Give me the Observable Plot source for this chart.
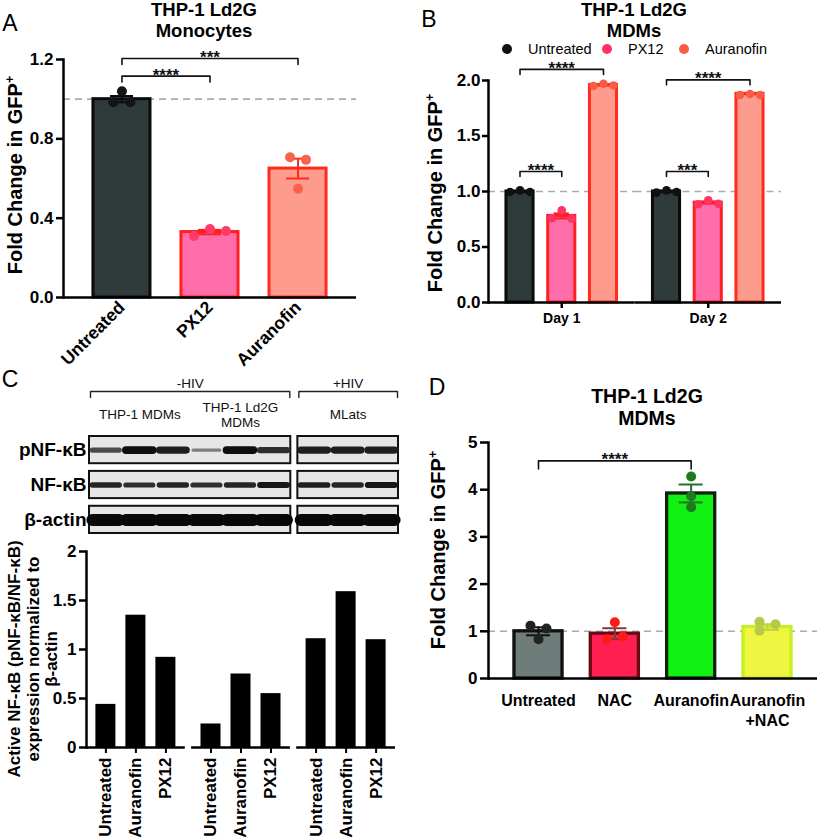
<!DOCTYPE html>
<html><head><meta charset="utf-8">
<script src="https://cdn.jsdelivr.net/npm/d3@7"></script>
<script src="https://cdn.jsdelivr.net/npm/@observablehq/plot@0.6"></script>
<style>
body{margin:0;background:#fff;}
#fig{position:relative;width:828px;height:840px;overflow:hidden;background:#fff;font-family:"Liberation Sans",Arial,Helvetica,sans-serif;color:#000;}
.lbl{position:absolute;white-space:nowrap;text-align:center;}
.dot{position:absolute;border-radius:50%;}
</style></head>
<body><div id="fig"></div>
<script>
// ================= DATA =================
// Panel A – THP-1 Ld2G Monocytes
const aCategories = ["Untreated", "PX12", "Auranofin"];
const aMeans = [1.00, 0.33, 0.65];
const aSems = [0.016, 0.011, 0.05];
const aReplicates = [[0.985, 1.04, 0.985], [0.31, 0.345, 0.335], [0.707, 0.548, 0.694]];
const aComparisons = [["Untreated", "PX12", 1.116, "****"], ["Untreated", "Auranofin", 1.205, "***"]];
const aTicks = [0, 0.4, 0.8, 1.2];

// Panel B – THP-1 Ld2G MDMs
const bDays = ["Day 1", "Day 2"];
const bCategories = ["Untreated", "PX12", "Auranofin"];
const bMeansDay1 = [1.00, 0.78, 1.96];
const bMeansDay2 = [1.00, 0.90, 1.88];
const bSemsDay1 = [0.006, 0.023, 0.007];
const bSemsDay2 = [0.006, 0.009, 0.004];
const bRepsDay1 = [[0.995, 1.01, 0.995], [0.76, 0.83, 0.755], [1.95, 1.97, 1.955]];
const bRepsDay2 = [[0.99, 1.01, 0.995], [0.885, 0.92, 0.89], [1.87, 1.878, 1.87]];
const bComparisons = [["Day 1", "Untreated", "PX12", 1.18, "****"], ["Day 1", "Untreated", "Auranofin", 2.10, "****"],
                      ["Day 2", "Untreated", "PX12", 1.18, "***"], ["Day 2", "Untreated", "Auranofin", 2.006, "****"]];
const bTicks = [0, 0.5, 1, 1.5, 2];

// Panel C – western blot + densitometry
const blotRows = ["pNF-κB", "NF-κB", "β-actin"];
const blotLaneHiv = ["-HIV", "-HIV", "-HIV", "-HIV", "-HIV", "-HIV", "+HIV", "+HIV", "+HIV"];
const blotLaneCell = ["THP-1 MDMs", "THP-1 MDMs", "THP-1 MDMs", "THP-1 Ld2G\nMDMs", "THP-1 Ld2G\nMDMs", "THP-1 Ld2G\nMDMs", "MLats", "MLats", "MLats"];
const blotPnfkb = [0.65, 0.97, 0.88, 0.38, 0.97, 0.8, 0.88, 0.88, 0.88];
const blotNfkb = [0.85, 0.8, 0.85, 0.8, 0.85, 0.92, 0.88, 0.85, 0.92];
const blotActin = [1, 1, 1, 1, 1, 1, 1, 1, 1];
const cGroups = ["THP-1 MDMs", "THP-1 Ld2G MDMs", "MLats"];
const cTreatments = ["Untreated", "Auranofin", "PX12"];
const cThp1 = [0.44, 1.35, 0.92];
const cLd2g = [0.24, 0.75, 0.55];
const cMlats = [1.11, 1.59, 1.10];
const cTicks = [0, 0.5, 1, 1.5, 2];

// Panel D – THP-1 Ld2G MDMs with NAC
const dCategories = ["Untreated", "NAC", "Auranofin", "Auranofin+NAC"];
const dMeans = [1.00, 0.95, 3.92, 1.09];
const dSems = [0.085, 0.115, 0.19, 0.06];
const dReplicates = [[1.12, 0.83, 1.06], [0.83, 1.19, 0.89], [4.28, 3.86, 3.63], [1.20, 1.01, 1.15]];
const dComparisons = [["Untreated", "Auranofin", 4.61, "****"]];
const dTicks = [0, 1, 2, 3, 4, 5];

// ================= HELPERS =================
const FONT = '"Liberation Sans", Arial, Helvetica, sans-serif';
const fig = document.getElementById("fig");
function place(el, left, top) { el.style.position = "absolute"; el.style.left = left + "px"; el.style.top = top + "px"; fig.appendChild(el); return el; }
function baseStyle(extra = {}) { return Object.assign({fontFamily: FONT, fontSize: "16px", fontWeight: "bold", background: "transparent", overflow: "visible", color: "#000"}, extra); }
function bandStep(inner, n, pi, po) { return inner / (n - pi + 2 * po); }
function dashed(v) { return Plot.ruleY([v], {stroke: "#ababab", strokeWidth: 1.6, strokeDasharray: "7,5"}); }
function errorMarks(data, {color, inset, fx}) {
  return [
    Plot.ruleX(data, {x: "cat", fx, y1: d => d.mean - d.sem, y2: d => d.mean + d.sem, stroke: color, strokeWidth: 2}),
    Plot.tickY(data, {x: "cat", fx, y: d => d.mean + d.sem, stroke: color, strokeWidth: 2, insetLeft: inset, insetRight: inset}),
    Plot.tickY(data, {x: "cat", fx, y: d => d.mean - d.sem, stroke: color, strokeWidth: 2, insetLeft: inset, insetRight: inset})
  ];
}
function dotMarks(points, {color, r, jitter, fx}) {
  return Array.from(d3.group(points, jitter), ([off, pts]) => Plot.dot(pts, {x: "cat", y: "v", fx, fill: color, r, dx: off}));
}
function bracketMarks(list, {tick, step, domain, fx}) {
  const pts = list.flatMap((b, k) => [
    {id: k, x: b.from, y: b.y - tick, fx: b.fx}, {id: k, x: b.from, y: b.y, fx: b.fx},
    {id: k, x: b.to, y: b.y, fx: b.fx}, {id: k, x: b.to, y: b.y - tick, fx: b.fx}]);
  const marks = [Plot.line(pts, {x: "x", y: "y", z: "id", fx, stroke: "#111", strokeWidth: 1.6})];
  list.forEach(b => {
    const span = domain.indexOf(b.to) - domain.indexOf(b.from);
    marks.push(Plot.text([b], {x: "from", y: "y", fx, text: "label", dx: span * step / 2, dy: -1,
      fontSize: 17, fontWeight: "bold", fill: "#111", lineAnchor: "middle"}));
  });
  return marks;
}
function addText(html, x, y, size, {weight = "bold", lh = size, rotate = false, anchor = "middle"} = {}) {
  const d = document.createElement("div");
  d.className = "lbl";
  d.innerHTML = html;
  d.style.fontSize = size + "px"; d.style.fontWeight = weight; d.style.lineHeight = lh + "px";
  d.style.left = x + "px"; d.style.top = y + "px";
  if (rotate) d.style.transform = "translate(-50%,-50%) rotate(-90deg)";
  else if (anchor === "start") { d.style.transform = "translate(0,-50%)"; d.style.textAlign = "left"; }
  else d.style.transform = "translate(-50%,-50%)";
  fig.appendChild(d);
  return d;
}
const sup = '<span style="font-size:0.62em;vertical-align:0.62em;line-height:0">+</span>';

// ================= PANEL A =================
const A = {w: 414, h: 380, mt: 59, mb: 83, ml: 63, mr: 58, pi: 0.352, po: 0.34};
const aStep = bandStep(A.w - A.ml - A.mr, aCategories.length, A.pi, A.po);
const aBars = aCategories.map((cat, i) => ({cat, mean: aMeans[i], sem: aSems[i]}));
const aPoints = aCategories.flatMap((cat, i) => aReplicates[i].map((v, rep) => ({cat, v, rep})));
const aFill = {Untreated: "#2f3b3b", PX12: "#ff6eaa", Auranofin: "#fd9b8d"};
const aStroke = {Untreated: "#0b0b0b", PX12: "#ff1f1f", Auranofin: "#ff2b1d"};
const aDot = {Untreated: "#141414", PX12: "#ff3b6b", Auranofin: "#f9624c"};
const aSpread = {Untreated: 8.5, PX12: 16, Auranofin: 8};
place(Plot.plot({
  width: A.w, height: A.h, marginTop: A.mt, marginBottom: A.mb, marginLeft: A.ml, marginRight: A.mr,
  style: baseStyle(),
  x: {domain: aCategories, paddingInner: A.pi, paddingOuter: A.po, round: false},
  y: {domain: [0, 1.2]},
  color: {type: "identity"},
  marks: [
    dashed(1),
    Plot.barY(aBars, {x: "cat", y: "mean", fill: d => aFill[d.cat], stroke: d => aStroke[d.cat], strokeWidth: 3}),
    ...errorMarks(aBars, {color: d => aStroke[d.cat], inset: 17}),
    ...dotMarks(aPoints, {color: d => aDot[d.cat], r: 5, jitter: d => (d.rep - 1) * aSpread[d.cat]}),
    ...bracketMarks(aComparisons.map(([from, to, y, label]) => ({from, to, y, label})), {tick: 0.03, step: aStep, domain: aCategories}),
    Plot.ruleY([0], {stroke: "#000", strokeWidth: 2.5}),
    Plot.frame({anchor: "left", stroke: "#000", strokeWidth: 2.5}),
    Plot.axisY({ticks: aTicks, tickFormat: ".1f", tickSize: 7, tickPadding: 3, strokeWidth: 2.5, fontSize: 17, fontWeight: "bold", label: null}),
    Plot.axisX({tickSize: 0, tickPadding: 7, tickRotate: -45, fontSize: 17.5, fontWeight: "bold", label: null})
  ]
}), 0, 0);

// ================= PANEL B =================
const B = {w: 414, h: 340, mt: 80, mb: 38, ml: 74, mr: 47, pi: 0.35, po: 0.43};
const bStep = bandStep((B.w - B.ml - B.mr) / bDays.length, bCategories.length, B.pi, B.po);
const bMeans = [bMeansDay1, bMeansDay2], bSems = [bSemsDay1, bSemsDay2], bReps = [bRepsDay1, bRepsDay2];
const bBars = bDays.flatMap((day, di) => bCategories.map((cat, i) => ({day, cat, mean: bMeans[di][i], sem: bSems[di][i]})));
const bPoints = bDays.flatMap((day, di) => bCategories.flatMap((cat, i) => bReps[di][i].map((v, rep) => ({day, cat, v, rep}))));
const bFill = aFill, bStroke = aStroke, bDot = {Untreated: "#111", PX12: "#ff3366", Auranofin: "#fa5b45"};
place(Plot.plot({
  width: B.w, height: B.h, marginTop: B.mt, marginBottom: B.mb, marginLeft: B.ml, marginRight: B.mr,
  style: baseStyle(),
  fx: {domain: bDays, padding: 0, round: false},
  x: {domain: bCategories, paddingInner: B.pi, paddingOuter: B.po, round: false, axis: null},
  y: {domain: [0, 2]},
  color: {type: "identity"},
  marks: [
    dashed(1),
    Plot.barY(bBars, {fx: "day", x: "cat", y: "mean", fill: d => bFill[d.cat], stroke: d => bStroke[d.cat], strokeWidth: 3}),
    ...errorMarks(bBars, {fx: "day", color: d => bStroke[d.cat], inset: 6}),
    ...dotMarks(bPoints, {fx: "day", color: d => bDot[d.cat], r: 4.3, jitter: d => (d.rep - 1) * 10}),
    ...bracketMarks(bComparisons.map(([fx, from, to, y, label]) => ({fx, from, to, y, label})), {fx: "fx", tick: 0.045, step: bStep, domain: bCategories}),
    Plot.ruleY([0], {stroke: "#000", strokeWidth: 2.5}),
    Plot.frame({anchor: "left", facetAnchor: "left", stroke: "#000", strokeWidth: 2.5}),
    Plot.axisY({ticks: bTicks, tickFormat: ".1f", tickSize: 6, tickPadding: 2, strokeWidth: 2.5, fontSize: 17, fontWeight: "bold", label: null}),
    Plot.axisFx({anchor: "bottom", tickSize: 6, tickPadding: 5, strokeWidth: 2.5, fontSize: 14, fontWeight: "bold", label: null})
  ]
}), 414, 0);

// ================= PANEL C : blot =================
const blotGap = 0.21;
const laneX = i => i + (i >= 6 ? blotGap : 0);
const blotIntensity = [blotPnfkb, blotNfkb, blotActin];
const blotBase = {"pNF-κB": 8, "NF-κB": 6.5, "β-actin": 12};
const hivGroups = Array.from(d3.group(blotLaneHiv.map((h, i) => ({h, i})), d => d.h), ([name, v]) =>
  ({name, x1: laneX(d3.min(v, d => d.i)), x2: laneX(d3.max(v, d => d.i)) + 1}));
const cellGroups = Array.from(d3.group(blotLaneCell.map((h, i) => ({h, i})), d => d.h), ([name, v]) =>
  ({name, mid: (laneX(d3.min(v, d => d.i)) + laneX(d3.max(v, d => d.i)) + 1) / 2}));
const blotBoxes = blotRows.flatMap(row => hivGroups.map(g => ({row, x1: g.x1, x2: g.x2})));
const grey = k => { const v = Math.round(8 + (1 - k) * 190); return `rgb(${v},${v},${v})`; };
const blotBands = blotRows.flatMap((row, ri) => blotIntensity[ri].map((k, i) => ({
  row, x1: laneX(i) + 0.1, x2: laneX(i) + 0.9, w: blotBase[row] * k, c: grey(k)})));
const blotXDomain = [0, laneX(blotLaneHiv.length - 1) + 1];
const hdr = {hivText: 0.196, bracket: 0.34, tick: 0.446, cell: 0.75};
const hivBracket = hivGroups.flatMap((g, k) => [
  {id: k, x: g.x1 + 0.03, y: hdr.tick}, {id: k, x: g.x1 + 0.03, y: hdr.bracket},
  {id: k, x: g.x2 - 0.03, y: hdr.bracket}, {id: k, x: g.x2 - 0.03, y: hdr.tick}]);
place(Plot.plot({
  width: 414, height: 56, marginTop: 0, marginBottom: 0, marginLeft: 89, marginRight: 16,
  style: baseStyle({fontWeight: "normal", fontSize: "13.5px"}),
  x: {domain: blotXDomain, axis: null},
  y: {domain: [0, 1], range: [0, 56], axis: null},
  marks: [
    Plot.line(hivBracket, {x: "x", y: "y", z: "id", stroke: "#222", strokeWidth: 1.4}),
    Plot.text(hivGroups, {x: d => (d.x1 + d.x2) / 2, y: () => hdr.hivText, text: "name", fontSize: 13.5, fontWeight: "normal", fill: "#111"}),
    Plot.text(cellGroups, {x: "mid", y: () => hdr.cell, text: "name", fontSize: 13.5, fontWeight: "normal", lineHeight: 1.1, fill: "#111"})
  ]
}), 0, 372);

const blotSvg = place(Plot.plot({
  width: 414, height: 120, marginTop: 11, marginBottom: 12, marginLeft: 89, marginRight: 16,
  style: baseStyle(),
  x: {domain: blotXDomain, axis: null},
  y: {domain: blotRows, paddingInner: 0.22, paddingOuter: 0, round: false},
  color: {type: "identity"},
  marks: [
    Plot.barX(blotBoxes, {x1: "x1", x2: "x2", y: "row", fill: "#e6e6e6", stroke: "#111", strokeWidth: 2}),
    Plot.ruleY(blotBands, {y: "row", x1: "x1", x2: "x2", stroke: "c", strokeWidth: "w", strokeLinecap: "round", ariaLabel: "band"}),
    Plot.axisY({tickSize: 0, tickPadding: 3, fontSize: 19, fontWeight: "bold", label: null})
  ]
}), 0, 425);
(function blur() {
  const svg = d3.select(blotSvg);
  svg.insert("defs", ":first-child").append("filter").attr("id", "blotblur")
    .attr("x", "-10%").attr("y", "-100%").attr("width", "120%").attr("height", "300%")
    .append("feGaussianBlur").attr("stdDeviation", 0.8);
  svg.selectAll('g[aria-label="band"]').attr("filter", "url(#blotblur)");
})();

// ================= PANEL C : densitometry =================
const cValues = [cThp1, cLd2g, cMlats];
const cBars = cGroups.flatMap((group, gi) => cTreatments.map((cat, i) => ({group, cat, value: cValues[gi][i]})));
place(Plot.plot({
  width: 414, height: 310, marginTop: 21, marginBottom: 93, marginLeft: 86, marginRight: 19,
  style: baseStyle(),
  fx: {domain: cGroups, paddingInner: 0.06, paddingOuter: 0, round: false, axis: null},
  x: {domain: cTreatments, paddingInner: 0.333, paddingOuter: 0.313, round: false},
  y: {domain: [0, 2]},
  marks: [
    Plot.barY(cBars, {fx: "group", x: "cat", y: "value", fill: "#000"}),
    Plot.ruleY([0], {stroke: "#000", strokeWidth: 2.5}),
    Plot.frame({anchor: "left", facetAnchor: "left", stroke: "#000", strokeWidth: 2.5}),
    Plot.axisY({ticks: cTicks, tickFormat: d => String(d), tickSize: 7, tickPadding: 3, strokeWidth: 2.5, fontSize: 17, fontWeight: "bold", label: null}),
    Plot.axisX({tickSize: 6, tickPadding: 4, tickRotate: -90, strokeWidth: 2, fontSize: 17, fontWeight: "bold", label: null})
  ]
}), 0, 530);

// ================= PANEL D =================
const D = {w: 414, h: 320, mt: 42, mb: 42, ml: 74, mr: 11, pi: 0.37, po: 0.34};
const dStep = bandStep(D.w - D.ml - D.mr, dCategories.length, D.pi, D.po);
const dBars = dCategories.map((cat, i) => ({cat, mean: dMeans[i], sem: dSems[i]}));
const dPoints = dCategories.flatMap((cat, i) => dReplicates[i].map((v, rep) => ({cat, v, rep})));
const dFill = {"Untreated": "#6e7d79", "NAC": "#ff1f50", "Auranofin": "#12f212", "Auranofin+NAC": "#f0f542"};
const dStroke = {"Untreated": "#101010", "NAC": "#6a0a14", "Auranofin": "#0e1f0e", "Auranofin+NAC": "#c6f022"};
const dDot = {"Untreated": "#222", "NAC": "#ff1a1a", "Auranofin": "#1e7a1e", "Auranofin+NAC": "#b8c84a"};
const dErr = {"Untreated": "#111", "NAC": "#8a3535", "Auranofin": "#2e6a2e", "Auranofin+NAC": "#c0d048"};
const dJitter = {"Untreated": [-8, 0, 8], "NAC": [-8, 0, 8], "Auranofin": [0, 0, 0], "Auranofin+NAC": [-8, -8, 8]};
place(Plot.plot({
  width: D.w, height: D.h, marginTop: D.mt, marginBottom: D.mb, marginLeft: D.ml, marginRight: D.mr,
  style: baseStyle(),
  x: {domain: dCategories, paddingInner: D.pi, paddingOuter: D.po, round: false},
  y: {domain: [0, 5]},
  color: {type: "identity"},
  marks: [
    dashed(1),
    Plot.barY(dBars, {x: "cat", y: "mean", fill: d => dFill[d.cat], stroke: d => dStroke[d.cat], strokeWidth: 3.3}),
    ...errorMarks(dBars, {color: d => dErr[d.cat], inset: 12}),
    ...dotMarks(dPoints, {color: d => dDot[d.cat], r: 5, jitter: d => dJitter[d.cat][d.rep]}),
    ...bracketMarks(dComparisons.map(([from, to, y, label]) => ({from, to, y, label})), {tick: 0.17, step: dStep, domain: dCategories}),
    Plot.ruleY([0], {stroke: "#000", strokeWidth: 2.5}),
    Plot.frame({anchor: "left", stroke: "#000", strokeWidth: 2.5}),
    Plot.axisY({ticks: dTicks, tickFormat: "d", tickSize: 8, tickPadding: 3, strokeWidth: 2.5, fontSize: 17, fontWeight: "bold", label: null}),
    Plot.axisX({tickSize: 0, tickPadding: 13, fontSize: 16, fontWeight: "bold", lineHeight: 1.25, label: null,
      tickFormat: d => d === "Auranofin+NAC" ? "Auranofin\n+NAC" : d})
  ]
}), 414, 400);

// ================= TEXT: titles, letters, axis labels, legend =================
addText("A", 10, 22.5, 23, {weight: "normal"});
addText("B", 429, 19, 23, {weight: "normal"});
addText("C", 10, 379, 23, {weight: "normal"});
addText("D", 437, 387, 23, {weight: "normal"});
addText("THP-1 Ld2G<br>Monocytes", 204, 20, 18.5, {lh: 21});
addText("THP-1 Ld2G<br>MDMs", 634, 19.5, 18.5, {lh: 21});
addText("THP-1 Ld2G<br>MDMs", 647, 407, 19.5, {lh: 21.5});
addText("Fold Change in GFP" + sup, 15, 175, 20, {rotate: true});
addText("Fold Change in GFP" + sup, 435, 193, 20, {rotate: true});
addText("Fold Change in GFP" + sup, 438, 550, 20, {rotate: true});
addText("Active NF-κB (pNF-κB/NF-κB)<br>expression normalized to<br>β-actin", 33.5, 659, 17, {rotate: true, lh: 18.5});

// legend for B
const bLegend = [["Untreated", 507, 528], ["PX12", 607, 628], ["Auranofin", 684, 705]];
bLegend.forEach(([name, cx, tx]) => {
  const d = document.createElement("div");
  d.className = "dot";
  d.style.width = "10px"; d.style.height = "10px";
  d.style.left = (cx - 5) + "px"; d.style.top = (49 - 5) + "px";
  d.style.background = bDot[name];
  fig.appendChild(d);
  addText(name, tx, 49, 14.5, {weight: "normal", anchor: "start"});
});
</script>
</body></html>
